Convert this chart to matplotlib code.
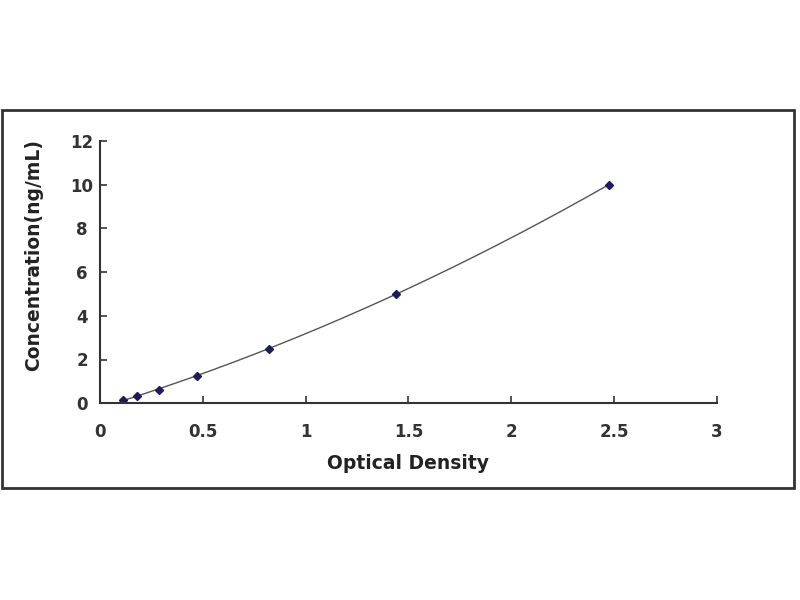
import numpy as np
import matplotlib
matplotlib.use("Agg")
import matplotlib.pyplot as plt
from matplotlib.patches import Rectangle

# standard curve points
od = [0.112, 0.18, 0.285, 0.47, 0.82, 1.44, 2.475]
conc = [0.156, 0.312, 0.625, 1.25, 2.5, 5.0, 10.0]

x_ticks = [0, 0.5, 1, 1.5, 2, 2.5, 3]
x_tick_labels = ["0", "0.5", "1", "1.5", "2", "2.5", "3"]
y_ticks = [0, 2, 4, 6, 8, 10, 12]

plt.rcParams['font.family'] = ['DejaVu Sans']

fig = plt.figure(figsize=(8, 6), dpi=100)
ax = fig.add_axes([0.125, 0.328, 0.771, 0.437])

# fitted curve (quadratic through the standards)
coef = np.polyfit(od, conc, 2)
xs = np.linspace(min(od), max(od), 200)
ax.plot(xs, np.polyval(coef, xs), color='#555555', lw=1.0)
ax.plot(od, conc, linestyle='none', marker='D', ms=4, color='#1c1c5c')

ax.set_xlim(0, 3)
ax.set_ylim(0, 12)
ax.set_xticks(x_ticks)
ax.set_xticklabels(x_tick_labels)
ax.set_yticks(y_ticks)
ax.tick_params(direction='in', length=5, width=1.2, colors='#333333', labelsize=12)
ax.tick_params(axis='x', pad=14)
ax.tick_params(axis='y', pad=13)
for lab in ax.get_xticklabels() + ax.get_yticklabels():
    lab.set_fontweight('bold')
    lab.set_color('#333333')
for lab in ax.get_yticklabels():
    lab.set_ha('center')

for side in ['top', 'right']:
    ax.spines[side].set_visible(False)
for side in ['left', 'bottom']:
    ax.spines[side].set_linewidth(1.5)
    ax.spines[side].set_color('#333333')

ax.set_xlabel("Optical Density", fontsize=13.5, fontweight='bold', color='#222222')
ax.set_ylabel("Concentration(ng/mL)", fontsize=13.5, fontweight='bold', color='#222222')
ax.xaxis.label.set_va('center')
ax.yaxis.label.set_va('center')
ax.xaxis.set_label_coords(0.5, -0.229)
ax.yaxis.set_label_coords(-0.108, 0.565)

# outer frame round the chart
fig.patches.append(Rectangle((0.003, 0.187), 0.989, 0.63, transform=fig.transFigure,
                             fill=False, lw=2, edgecolor='#333333'))

fig.savefig("out.png", dpi=100)
